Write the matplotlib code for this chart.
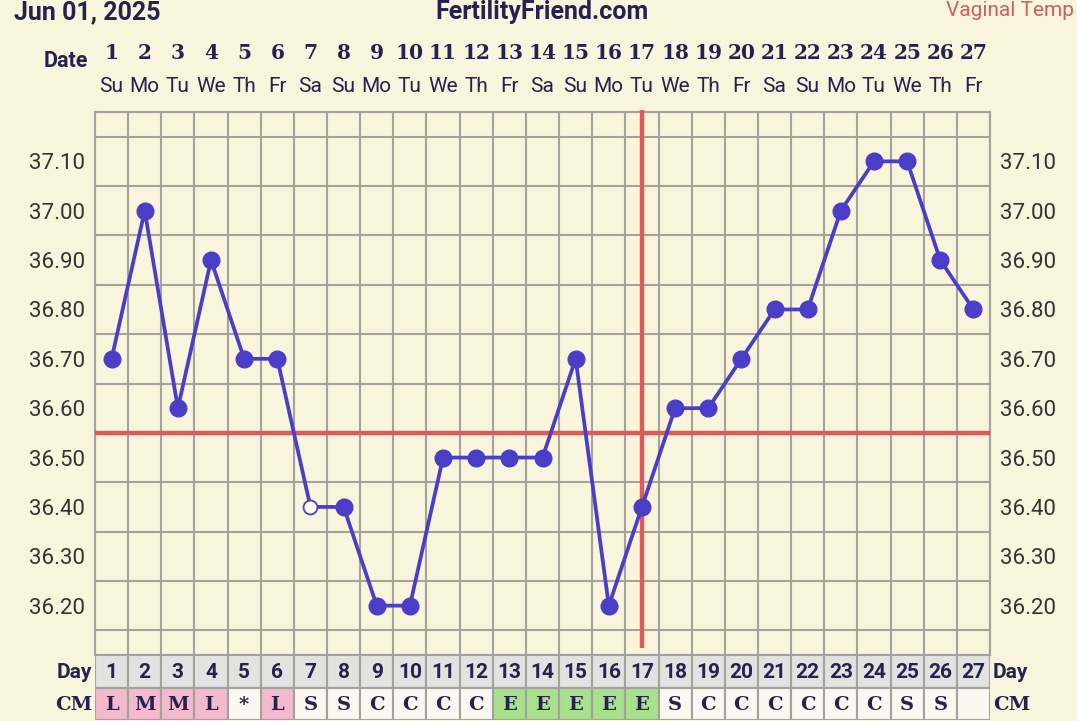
import matplotlib
matplotlib.use("Agg")
import matplotlib.pyplot as plt
import matplotlib.transforms as mtransforms
import numpy as np

# ---- data ----
days = list(range(1, 28))
weekdays = ["Su", "Mo", "Tu", "We", "Th", "Fr", "Sa"] * 3 + ["Su", "Mo", "Tu", "We", "Th", "Fr"]
temps = [36.70, 37.00, 36.60, 36.90, 36.70, 36.70, 36.40, 36.40, 36.20, 36.20,
         36.50, 36.50, 36.50, 36.50, 36.70, 36.20, 36.40, 36.60, 36.60, 36.70,
         36.80, 36.80, 37.00, 37.10, 37.10, 36.90, 36.80]
open_days = [7]
cm_codes = ["L", "M", "M", "L", "*", "L", "S", "S", "C", "C", "C", "C", "E", "E",
            "E", "E", "E", "S", "C", "C", "C", "C", "C", "C", "S", "S", ""]
coverline = 36.55
ovulation_day = 17
ytick_vals = [36.20, 36.30, 36.40, 36.50, 36.60, 36.70, 36.80, 36.90, 37.00, 37.10]

# ---- style ----
BG = "#f9f4dc"
GRID = "#a3a39b"
LINE = "#4a3ec8"
RED = "#dc5a5a"
NAVY = "#26214f"
TXT = "#333333"
CM_COLORS = {"L": "#f3b9cd", "M": "#f3b9cd", "E": "#a9e08e"}

W, H = 1077, 721
fig = plt.figure(figsize=(W / 100, H / 100), dpi=100, facecolor=BG)

def fy(py):
    return 1 - py / H

def fx(px):
    return px / W

left_px, right_px, top_px, bot_px = 95, 990, 112, 655
ax = fig.add_axes([fx(left_px), fy(bot_px), fx(right_px) - fx(left_px), fy(top_px) - fy(bot_px)])
ax.set_facecolor(BG)
ax.set_xlim(0.5, 27.5)
ax.set_ylim(36.10, 37.20)

ax.set_yticks(ytick_vals)
ax.set_yticklabels([f"{v:.2f}" for v in ytick_vals])
ax.set_yticks(np.arange(36.10, 37.201, 0.05), minor=True)
ax.set_xticks(days)
ax.set_xticks(np.arange(0.5, 27.51, 1.0), minor=True)
ax.tick_params(axis="both", which="both", length=0)
ax.tick_params(axis="x", labelbottom=False)
ax.tick_params(axis="y", labelleft=True, labelright=True, labelsize=16, labelcolor=TXT, pad=7)
for lab in ax.get_yticklabels():
    lab.set_family("Roboto")
ax.grid(which="minor", color=GRID, linewidth=1.5)
ax.grid(which="major", visible=False)
for s in ax.spines.values():
    s.set_color(GRID)
    s.set_linewidth(1.5)

# coverline and ovulation line
ax.axhline(coverline, color=RED, linewidth=3.2, zorder=3)
ax.plot([ovulation_day, ovulation_day], [37.205, 36.115], color=RED, linewidth=3.2,
        zorder=3, clip_on=False, solid_capstyle="butt")

# temperature line
ax.plot(days, temps, color=LINE, linewidth=2.7, zorder=4)
filled = [(d, t) for d, t in zip(days, temps) if d not in open_days]
ax.plot([d for d, _ in filled], [t for _, t in filled], "o", color=LINE, markersize=12, zorder=5)
op = [(d, t) for d, t in zip(days, temps) if d in open_days]
ax.plot([d for d, _ in op], [t for _, t in op], "o", markerfacecolor="white",
        markeredgecolor=LINE, markeredgewidth=1.3, markersize=10, zorder=5)

# ---- bottom table ----
tab = fig.add_axes([fx(left_px), fy(720), fx(right_px) - fx(left_px), fy(655) - fy(720)], sharex=ax)
tab.set_ylim(0, 2)
tab.axis("off")
for d, code in zip(days, cm_codes):
    tab.add_patch(plt.Rectangle((d - 0.5, 1), 1, 1, facecolor="#e2e2e0", edgecolor=GRID, linewidth=1.5))
    tab.add_patch(plt.Rectangle((d - 0.5, 0), 1, 1, facecolor=CM_COLORS.get(code, "#faf8f0"),
                                edgecolor=GRID, linewidth=1.5))
    tab.text(d, 1.47, str(d), ha="center", va="center", fontsize=15, fontweight="bold",
             family="Roboto", color=NAVY)
    if code:
        tab.text(d, 0.45, code, ha="center", va="center", fontsize=14, fontweight="bold",
                 family="DejaVu Serif", color=NAVY)

tab.text(0.5 - 0.08, 1.47, "Day", ha="right", va="center", fontsize=15, fontweight="bold",
         family="Roboto", color=NAVY)
tab.text(0.5 - 0.08, 0.45, "CM", ha="right", va="center", fontsize=14, fontweight="bold",
         family="DejaVu Serif", color=NAVY)
tab.text(27.5 + 0.08, 1.47, "Day", ha="left", va="center", fontsize=15, fontweight="bold",
         family="Roboto", color=NAVY)
tab.text(27.5 + 0.08, 0.45, "CM", ha="left", va="center", fontsize=14, fontweight="bold",
         family="DejaVu Serif", color=NAVY)

# ---- top header ----
btr = mtransforms.blended_transform_factory(ax.transData, fig.transFigure)
for d, wd in zip(days, weekdays):
    ax.text(d, fy(53), str(d), transform=btr, ha="center", va="center", fontsize=14.5,
            fontweight="bold", family="DejaVu Serif", color=NAVY)
    ax.text(d, fy(87), wd, transform=btr, ha="center", va="center", fontsize=15,
            family="Roboto", color=NAVY)
fig.text(fx(88), fy(61), "Date", ha="right", va="center", fontsize=15.5, fontweight="bold",
         family="Roboto", color=NAVY)
fig.text(fx(14), fy(12), "Jun 01, 2025", ha="left", va="center", fontsize=18,
         fontweight="bold", family="Roboto", color=NAVY)
fig.text(fx(542), fy(12), "FertilityFriend.com", ha="center", va="center", fontsize=18,
         fontweight="bold", family="Roboto", color=NAVY)
fig.text(fx(946), fy(10), "Vaginal Temp", ha="left", va="center", fontsize=15,
         family="Roboto", color="#d05f5f")

fig.savefig("out.png", dpi=100, facecolor=BG)
